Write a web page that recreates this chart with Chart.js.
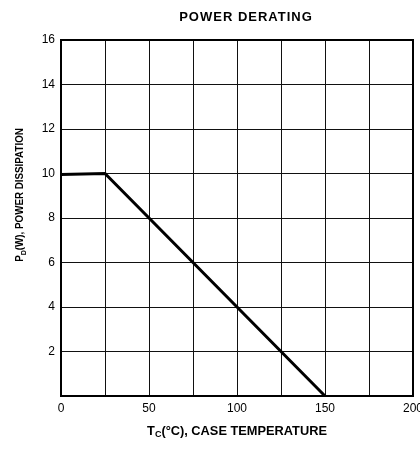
<!DOCTYPE html>
<html lang="en">
<head>
<meta charset="UTF-8" />
<title>Power Derating</title>
<script src="https://cdn.jsdelivr.net/npm/chart.js@4.4.1/dist/chart.umd.min.js"></script>
<style>
  html, body { margin: 0; padding: 0; background: #fff; }
  #wrap { width: 420px; height: 450px; position: relative; }
</style>
</head>
<body>
<div id="wrap"><canvas id="chart"></canvas></div>
<script>
// case temperature (°C) and allowed power dissipation (W)
var caseTemp = [0, 25, 150];
var powerW = [9.95, 10, 0];

var xTickLabels = ["0", "50", "100", "150", "200"];
var yTickLabels = ["2", "4", "6", "8", "10", "12", "14", "16"];

var FONT = "'Liberation Sans', Arial, sans-serif";

// draws a string with a subscript letter after the first char
function subText(ctx, main, sub, rest, x, y, size) {
    ctx.font = "bold " + size + "px " + FONT;
    var w1 = ctx.measureText(main).width;
    var w3 = ctx.measureText(rest).width;
    ctx.font = "bold " + Math.round(size * 0.7) + "px " + FONT;
    var w2 = ctx.measureText(sub).width;
    var total = w1 + w2 + w3;
    var sx = x - total / 2;
    ctx.textAlign = "left";
    ctx.textBaseline = "middle";
    ctx.font = "bold " + size + "px " + FONT;
    ctx.fillText(main, sx, y);
    ctx.font = "bold " + Math.round(size * 0.7) + "px " + FONT;
    ctx.fillText(sub, sx + w1, y + size * 0.3);
    ctx.font = "bold " + size + "px " + FONT;
    ctx.fillText(rest, sx + w1 + w2, y);
}

var decor = {
    id: "decor",
    afterDraw: function(chart) {
        var ctx = chart.ctx;
        var a = chart.chartArea;
        ctx.save();
        ctx.strokeStyle = "#000";
        ctx.lineWidth = 2;
        ctx.strokeRect(a.left, a.top, a.right - a.left, a.bottom - a.top);
        ctx.fillStyle = "#000";
        ctx.font = "bold 13px " + FONT;
        ctx.letterSpacing = "1px";
        ctx.textAlign = "center";
        ctx.textBaseline = "middle";
        ctx.fillText("POWER DERATING", 246, 17);
        ctx.letterSpacing = "0px";
        subText(ctx, "T", "C", "(°C), CASE TEMPERATURE", 237, 431, 12.8);
        ctx.translate(20, 195);
        ctx.rotate(-Math.PI / 2);
        ctx.scale(0.89, 1);   // y title is a bit condensed in the original
        subText(ctx, "P", "D", "(W), POWER DISSIPATION", 0, 0, 11);
        ctx.restore();
    }
};

var points = caseTemp.map(function(t, i) { return { x: t, y: powerW[i] }; });

new Chart(document.getElementById("chart"), {
    type: "line",
    data: {
        datasets: [{
            data: points,
            borderColor: "#000",
            borderWidth: 3,
            pointRadius: 0,
            tension: 0,
            fill: false,
            clip: false
        }]
    },
    options: {
        responsive: true,
        maintainAspectRatio: false,
        animation: false,
        layout: { padding: { top: 40, right: 7, left: 0, bottom: 0 } },
        plugins: { legend: { display: false }, tooltip: { enabled: false } },
        scales: {
            x: {
                type: "linear",
                min: 0,
                max: 200,
                border: { display: false },
                grid: { color: "#111", lineWidth: 1, drawTicks: false },
                ticks: {
                    stepSize: 25,
                    padding: 5,
                    maxRotation: 0,
                    autoSkip: false,
                    color: "#000",
                    font: { family: FONT, size: 12 },
                    callback: function(v) {
                        return v % 50 === 0 ? xTickLabels[v / 50] : "";
                    }
                },
                afterFit: function(s) { s.height = 54; s.paddingLeft = 0; s.paddingRight = 0; }
            },
            y: {
                min: 0,
                max: 16,
                border: { display: false },
                grid: { color: "#111", lineWidth: 1, drawTicks: false },
                ticks: {
                    stepSize: 2,
                    padding: 6,
                    color: "#000",
                    font: { family: FONT, size: 12 },
                    callback: function(v) {
                        return v === 0 ? "" : yTickLabels[v / 2 - 1];
                    }
                },
                afterFit: function(s) { s.width = 61; s.paddingTop = 0; s.paddingBottom = 0; }
            }
        }
    },
    plugins: [decor]
});
</script>
</body>
</html>
